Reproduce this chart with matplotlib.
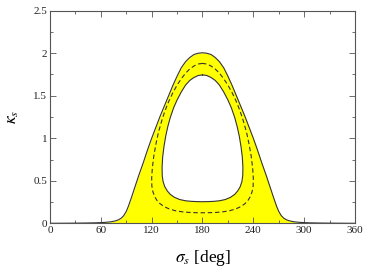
import matplotlib
matplotlib.use("Agg")
import matplotlib.pyplot as plt
from matplotlib.ticker import MultipleLocator

# Outer boundary of the yellow region (sigma_s [deg], kappa_s)
outer_x = [0, 20, 40, 55, 65, 72, 77, 81, 84, 87, 90, 92.5, 96, 100, 105, 110, 115, 120, 125, 130,
           135, 140, 145, 150, 155, 160, 165, 170, 175, 180,
           185, 190, 195, 200, 205, 210, 215, 220, 225, 230, 235, 240, 245, 250, 255, 260, 264, 267.5,
           270, 273, 276, 279, 283, 288, 295, 305, 320, 340, 360]
outer_y = [0.0, 0.001, 0.003, 0.006, 0.011, 0.018, 0.028, 0.042, 0.06, 0.09, 0.14, 0.20, 0.30, 0.42, 0.57, 0.71, 0.86, 1.00, 1.13, 1.26,
           1.38, 1.50, 1.62, 1.73, 1.83, 1.90, 1.95, 1.985, 2.0, 2.005,
           2.0, 1.985, 1.95, 1.90, 1.83, 1.73, 1.62, 1.50, 1.38, 1.26, 1.13, 1.00, 0.86, 0.71, 0.57, 0.42, 0.30, 0.20,
           0.14, 0.09, 0.06, 0.042, 0.028, 0.018, 0.011, 0.006, 0.003, 0.001, 0.0]

# Inner (hole) boundary, closed loop
inner_x = [180, 175, 170, 165, 160, 155, 150, 146, 142, 139, 136.5, 134.5, 133, 132.3, 132.5, 133.5, 135.5,
           138.5, 142, 147, 153, 160, 167, 174, 180,
           186, 193, 200, 207, 213, 218, 221.5, 224.5, 226.5, 227.5, 227.7, 227, 225.5, 223.5, 221, 218,
           214, 210, 205, 200, 195, 190, 185, 180]
inner_y = [1.745, 1.738, 1.715, 1.68, 1.625, 1.545, 1.45, 1.36, 1.245, 1.135, 1.02, 0.90, 0.78, 0.66, 0.56, 0.49, 0.43,
           0.38, 0.34, 0.305, 0.28, 0.265, 0.258, 0.255, 0.254,
           0.255, 0.258, 0.265, 0.28, 0.305, 0.34, 0.38, 0.43, 0.49, 0.56, 0.66, 0.78, 0.90, 1.02, 1.135, 1.245,
           1.36, 1.45, 1.545, 1.625, 1.68, 1.715, 1.738, 1.745]

# Dashed middle curve, closed loop
mid_x = [180, 175, 170, 165, 160, 155, 150, 145, 140, 136, 132, 128, 125, 122.5, 120.8, 120, 120.2, 121.5,
         123.5, 126.5, 130, 135, 141, 148, 156, 164, 172, 180,
         188, 196, 204, 212, 219, 225, 230, 233.5, 236.5, 238.5, 239.8, 240, 239.2, 237.5, 235, 232, 228,
         224, 220, 215, 210, 205, 200, 195, 190, 185, 180]
mid_y = [1.88, 1.873, 1.85, 1.815, 1.765, 1.70, 1.625, 1.535, 1.43, 1.33, 1.21, 1.07, 0.93, 0.79, 0.65, 0.53, 0.44, 0.37,
         0.315, 0.265, 0.23, 0.195, 0.168, 0.148, 0.135, 0.128, 0.125, 0.124,
         0.125, 0.128, 0.135, 0.148, 0.168, 0.195, 0.23, 0.265, 0.315, 0.37, 0.44, 0.53, 0.65, 0.79, 0.93, 1.07, 1.21,
         1.33, 1.43, 1.535, 1.625, 1.70, 1.765, 1.815, 1.85, 1.873, 1.88]

x_ticks = [0, 60, 120, 180, 240, 300, 360]
y_ticks = [0, 0.5, 1, 1.5, 2, 2.5]
y_tick_labels = ["0", "0.5", "1", "1.5", "2", "2.5"]

plt.rcParams['font.family'] = ['Liberation Serif', 'DejaVu Serif']
plt.rcParams['mathtext.fontset'] = 'stix'

fig = plt.figure(figsize=(3.71, 2.74), dpi=100)
ax = fig.add_axes([0.1348, 0.185, 0.822, 0.776])

ax.fill_between(outer_x, 0, outer_y, color='#ffff00', lw=0, zorder=1)
ax.fill(inner_x, inner_y, color='white', lw=0, zorder=2)
ax.plot(outer_x, outer_y, color='#333333', lw=0.8, zorder=3)
ax.plot(inner_x, inner_y, color='#333333', lw=0.8, zorder=3)
ax.plot(mid_x, mid_y, color='#333333', lw=0.8, ls=(0, (4, 2.5)), zorder=3)

ax.set_xlim(0, 360)
ax.set_ylim(0, 2.5)
ax.set_xticks(x_ticks)
ax.set_xticklabels([str(v) for v in x_ticks])
ax.set_yticks(y_ticks)
ax.set_yticklabels(y_tick_labels)
ax.xaxis.set_minor_locator(MultipleLocator(30))
ax.yaxis.set_minor_locator(MultipleLocator(0.25))
ax.tick_params(which='both', direction='in', top=True, right=True, colors='#555555',
               labelcolor='#222222', labelsize=8, pad=2)
ax.tick_params(which='major', length=4.5, width=0.6)
ax.tick_params(which='minor', length=2.5, width=0.6)
for s in ax.spines.values():
    s.set_color('#555555')
    s.set_linewidth(0.8)

ax.set_xlabel(r'$\sigma_s$ [deg]', fontsize=12.5, labelpad=9)
ax.set_ylabel(r'$\kappa_s$', fontsize=12.5, labelpad=9)

fig.savefig('out.png', dpi=100)
